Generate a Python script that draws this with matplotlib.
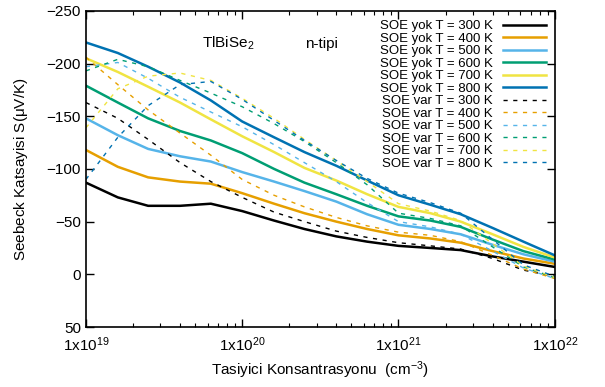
import matplotlib
matplotlib.use('Agg')
from matplotlib import pyplot as plt
from matplotlib.ticker import LogLocator, FixedLocator, NullFormatter

plt.rcParams['font.family'] = ['Liberation Sans', 'DejaVu Sans']
plt.rcParams['mathtext.default'] = 'regular'

# carrier concentration (cm^-3)
conc = [1.0e19, 1.6e19, 2.5e19, 4.0e19, 6.3e19, 1.0e20, 1.6e20, 2.5e20,
        4.0e20, 6.3e20, 1.0e21, 1.6e21, 2.5e21, 4.0e21, 6.3e21, 1.0e22]

temps = [300, 400, 500, 600, 700, 800]

# Seebeck, without SOC (SOE yok)
yok_300 = [-87, -73, -65, -65, -67, -60, -51, -43, -36, -31, -27, -25, -23, -17, -12, -7]
yok_400 = [-118, -102, -92, -88, -86, -77, -67, -58, -50, -43, -37, -34, -30, -22, -15, -10]
yok_500 = [-148, -132, -119, -112, -107, -97, -88, -79, -69, -57, -47, -43, -38, -28, -19, -12]
yok_600 = [-179, -163, -148, -136, -127, -115, -100, -87, -76, -65, -55, -51, -45, -33, -22, -14]
yok_700 = [-205, -192, -178, -163, -147, -131, -116, -101, -89, -76, -64, -58, -50, -38, -26, -16]
yok_800 = [-220, -210, -197, -182, -165, -145, -130, -116, -103, -89, -75, -66, -57, -44, -31, -18]

# Seebeck, with SOC (SOE var)
var_300 = [-163, -148, -128, -106, -88, -73, -59, -50, -41, -35, -30, -27, -24, -15, -4, 2]
var_400 = [-206, -180, -156, -134, -113, -90, -75, -64, -54, -46, -40, -37, -31, -18, -5, 4]
var_500 = [-197, -201, -186, -168, -154, -140, -123, -106, -88, -68, -50, -45, -38, -22, -6, 4]
var_600 = [-193, -204, -197, -184, -172, -159, -143, -126, -106, -85, -58, -53, -46, -26, -7, 3]
var_700 = [-139, -176, -188, -191, -184, -167, -148, -128, -108, -88, -67, -60, -51, -29, -8, 3]
var_800 = [-90, -130, -160, -180, -183, -166, -146, -127, -108, -91, -77, -68, -58, -33, -9, 2]

colors = ['black', '#e69f00', '#56b4e9', '#009e73', '#f0e442', '#0072b2']

fig, ax = plt.subplots(figsize=(6.05, 3.87), dpi=100)
fig.subplots_adjust(left=0.142, right=0.917, top=0.972, bottom=0.155)

yok = [yok_300, yok_400, yok_500, yok_600, yok_700, yok_800]
var = [var_300, var_400, var_500, var_600, var_700, var_800]

for T, s, c in zip(temps, yok, colors):
    ax.plot(conc, s, color=c, lw=1.8, label='SOE yok T = %d K' % T)
for T, s, c in zip(temps, var, colors):
    ax.plot(conc, s, color=c, lw=1.0, dashes=(3, 4), label='SOE var T = %d K' % T)

ax.set_xscale('log')
ax.set_xlim(1e19, 1e22)
ax.set_ylim(50, -250)
ax.set_yticks([-250, -200, -150, -100, -50, 0, 50])
ax.xaxis.set_major_locator(FixedLocator([1e19, 1e20, 1e21, 1e22]))
ax.xaxis.set_minor_locator(LogLocator(base=10, subs=range(2, 10)))
ax.xaxis.set_minor_formatter(NullFormatter())
ax.set_xticklabels([r'1x10$^{19}$', r'1x10$^{20}$', r'1x10$^{21}$', r'1x10$^{22}$'])

ax.tick_params(which='both', direction='in', top=True, right=True, labelsize=11)
ax.tick_params(which='major', length=6, width=1)
ax.tick_params(which='minor', length=3, width=0.8)
ax.tick_params(axis='x', pad=6)
for sp in ax.spines.values():
    sp.set_linewidth(1.2)

ax.set_xlabel(r'Tasiyici Konsantrasyonu  (cm$^{-3}$)', fontsize=11)
ax.set_ylabel(r'Seebeck Katsayisi S($\mu$V/K)', fontsize=11, labelpad=12)

ax.text(8.1e19, -219, r'TlBiSe$_2$', fontsize=11, ha='center', va='center')
ax.text(3.2e20, -219, 'n-tipi', fontsize=11, ha='center', va='center')

ax.legend(loc='upper right', frameon=False, markerfirst=False, fontsize=9.5,
          handlelength=3.2, labelspacing=0.02, borderaxespad=0.3,
          handletextpad=0.8)

plt.savefig('out.png', dpi=100)
